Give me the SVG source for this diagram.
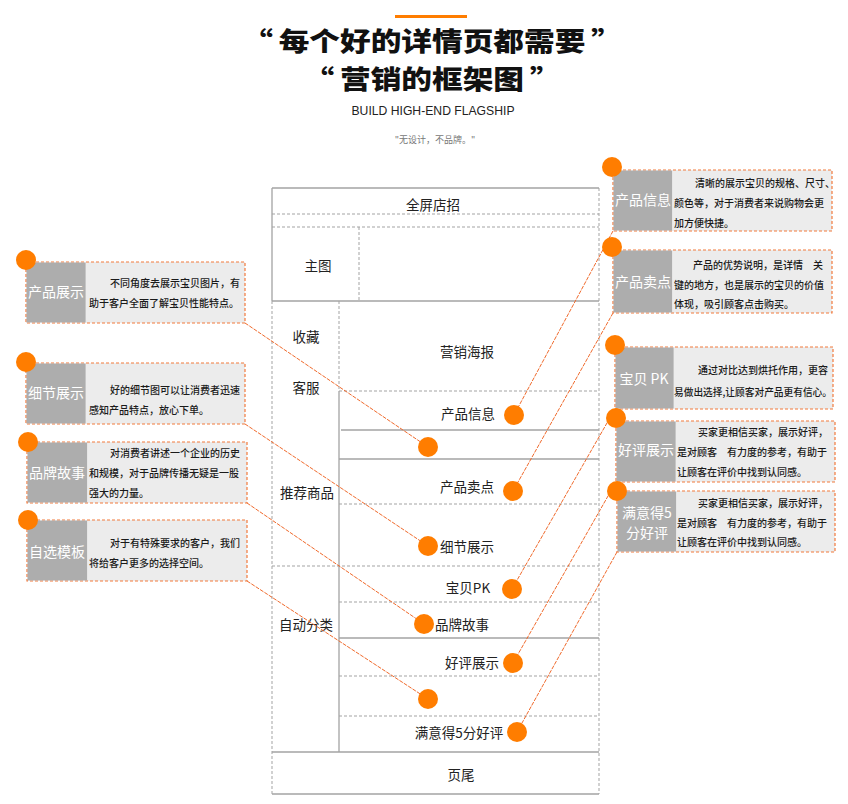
<svg xmlns="http://www.w3.org/2000/svg" width="848" height="804" viewBox="0 0 848 804">
<style>
.bg{fill:#ffffff}
.title{font-family:"Noto Sans CJK SC",sans-serif;font-weight:900;font-size:26px;fill:#111;text-anchor:middle}
.cell{font-family:"Noto Sans CJK SC","Liberation Sans",sans-serif;font-size:13.5px;fill:#222;text-anchor:middle}
.ls{stroke:#a3a3a3;stroke-width:1.3;fill:none}
.ld{stroke:#a3a3a3;stroke-width:1;stroke-dasharray:3 2;fill:none}
.box{fill:#ececec;stroke:#f27a3c;stroke-width:1.2;stroke-dasharray:3 2}
.lab{fill:#adadad}
.labt{font-family:"Noto Sans CJK SC",sans-serif;font-size:14px;fill:#ffffff;text-anchor:middle}
.body{font-family:"Noto Sans CJK SC",serif;font-size:10px;fill:#1a1a1a;font-weight:500}
.dot{fill:#ff7d00}
.con{stroke:#f06a2c;stroke-width:1;stroke-dasharray:4 1.2;fill:none}
</style>
<rect class="bg" x="0" y="0" width="848" height="804"/>

<g id="header">
<rect x="395" y="15" width="72" height="3" fill="#ff7d00"/>
<text class="title" x="0" y="51" transform="translate(432,0) scale(1.18,1)"><tspan>“</tspan><tspan dx="5">每个好的详情页都需要</tspan><tspan dx="5">”</tspan></text>
<text class="title" x="0" y="89" transform="translate(432,0) scale(1.18,1)"><tspan>“</tspan><tspan dx="5">营销的框架图</tspan><tspan dx="5">”</tspan></text>
<text x="433" y="115" font-family="Liberation Sans, Arial, sans-serif" font-size="13.5" fill="#222" text-anchor="middle" textLength="163" lengthAdjust="spacingAndGlyphs">BUILD HIGH-END FLAGSHIP</text>
<text x="435" y="143" font-family="Noto Sans CJK SC, sans-serif" font-size="9" fill="#777" text-anchor="middle">"无设计，不品牌。"</text>
</g>

<g id="frame">
<line class="ls" x1="272" y1="188" x2="599" y2="188"/>
<line class="ls" x1="272" y1="188" x2="272" y2="301"/>
<line class="ld" x1="272" y1="301" x2="272" y2="794"/>
<line class="ld" x1="599" y1="188" x2="599" y2="794"/>
<line class="ld" x1="272" y1="214" x2="599" y2="214"/>
<line class="ld" x1="272" y1="227" x2="599" y2="227"/>
<line class="ld" x1="359" y1="227" x2="359" y2="301"/>
<line class="ls" x1="272" y1="301" x2="599" y2="301"/>
<line class="ld" x1="339" y1="301" x2="339" y2="391"/>
<line class="ls" x1="339" y1="391" x2="339" y2="752"/>
<line class="ld" x1="339" y1="391" x2="599" y2="391"/>
<line class="ls" x1="341" y1="430" x2="599" y2="430"/>
<line class="ls" x1="339" y1="459" x2="599" y2="459"/>
<line class="ld" x1="339" y1="504" x2="599" y2="504"/>
<line class="ld" x1="272" y1="566" x2="599" y2="566"/>
<line class="ld" x1="339" y1="602" x2="599" y2="602"/>
<line class="ls" x1="339" y1="638" x2="599" y2="638"/>
<line class="ld" x1="339" y1="676" x2="599" y2="676"/>
<line class="ld" x1="339" y1="716" x2="599" y2="716"/>
<line class="ls" x1="272" y1="752" x2="599" y2="752"/>
<line class="ls" x1="272" y1="794" x2="599" y2="794"/>
</g>

<g id="cell-quanping"><text class="cell" x="433" y="210">全屏店招</text></g>
<g id="cell-zhutu"><text class="cell" x="318" y="271">主图</text></g>
<g id="cell-shoucang"><text class="cell" x="306" y="342">收藏</text></g>
<g id="cell-kefu"><text class="cell" x="306" y="393">客服</text></g>
<g id="cell-tuijian"><text class="cell" x="307" y="498">推荐商品</text></g>
<g id="cell-zidong"><text class="cell" x="306" y="630">自动分类</text></g>
<g id="cell-haibao"><text class="cell" x="467" y="357">营销海报</text></g>
<g id="cell-xinxi"><text class="cell" x="468" y="419">产品信息</text></g>
<g id="cell-maidian"><text class="cell" x="467" y="492">产品卖点</text></g>
<g id="cell-xijie"><text class="cell" x="467" y="552">细节展示</text></g>
<g id="cell-pk"><text class="cell" x="468" y="593">宝贝PK</text></g>
<g id="cell-pinpai"><text class="cell" x="462" y="630">品牌故事</text></g>
<g id="cell-haoping"><text class="cell" x="472" y="668">好评展示</text></g>
<g id="cell-manyi"><text class="cell" x="459" y="738">满意得5分好评</text></g>
<g id="cell-yewei"><text class="cell" x="461" y="780">页尾</text></g>

<g id="connectors">
<line class="con" x1="245" y1="323" x2="428" y2="447"/>
<line class="con" x1="245" y1="424" x2="428" y2="546"/>
<line class="con" x1="247" y1="503" x2="424" y2="624"/>
<line class="con" x1="247" y1="581" x2="428" y2="699"/>
<line class="con" x1="613" y1="231" x2="514" y2="415"/>
<line class="con" x1="613" y1="313" x2="513" y2="491"/>
<line class="con" x1="615" y1="409" x2="512" y2="589"/>
<line class="con" x1="616" y1="482" x2="513" y2="663"/>
<line class="con" x1="617" y1="552" x2="517" y2="732"/>
<circle class="dot" cx="428" cy="447" r="10"/>
<circle class="dot" cx="428" cy="546" r="10"/>
<circle class="dot" cx="424" cy="624" r="10"/>
<circle class="dot" cx="428" cy="699" r="10"/>
<circle class="dot" cx="514" cy="415" r="10"/>
<circle class="dot" cx="513" cy="491" r="10"/>
<circle class="dot" cx="512" cy="589" r="10"/>
<circle class="dot" cx="513" cy="663" r="10"/>
<circle class="dot" cx="517" cy="732" r="10"/>
</g>

<g id="box-chanpinzhanshi">
<rect class="box" x="26" y="262" width="219" height="61"/>
<rect class="lab" x="26.6" y="262.6" width="59" height="59.8"/>
<circle class="dot" cx="26" cy="260" r="10"/>
<text class="labt" x="56" y="297">产品展示</text>
<text class="body" x="110" y="287">不同角度去展示宝贝图片，有</text>
<text class="body" x="89" y="307">助于客户全面了解宝贝性能特点。</text>
</g>

<g id="box-xijiezhanshi">
<rect class="box" x="26" y="363" width="219" height="61"/>
<rect class="lab" x="26.6" y="363.6" width="59" height="59.8"/>
<circle class="dot" cx="26" cy="362" r="10"/>
<text class="labt" x="56" y="398">细节展示</text>
<text class="body" x="110" y="394">好的细节图可以让消费者迅速</text>
<text class="body" x="89" y="414">感知产品特点，放心下单。</text>
</g>

<g id="box-pinpaigushi">
<rect class="box" x="27" y="442" width="220" height="61"/>
<rect class="lab" x="27.6" y="442.6" width="59.5" height="59.8"/>
<circle class="dot" cx="28" cy="442" r="10"/>
<text class="labt" x="57" y="478">品牌故事</text>
<text class="body" x="110" y="457">对消费者讲述一个企业的历史</text>
<text class="body" x="89" y="477">和规模，对于品牌传播无疑是一股</text>
<text class="body" x="89" y="497">强大的力量。</text>
</g>

<g id="box-zixuanmoban">
<rect class="box" x="27" y="520" width="220" height="61"/>
<rect class="lab" x="27.6" y="520.6" width="59.5" height="59.8"/>
<circle class="dot" cx="28" cy="520" r="10"/>
<text class="labt" x="57" y="557">自选模板</text>
<text class="body" x="110" y="547">对于有特殊要求的客户，我们</text>
<text class="body" x="89" y="567">将给客户更多的选择空间。</text>
</g>

<g id="box-chanpinxinxi">
<rect class="box" x="613" y="170" width="219" height="61"/>
<rect class="lab" x="613.6" y="170.6" width="58.5" height="59.8"/>
<circle class="dot" cx="612" cy="167" r="10"/>
<text class="labt" x="643" y="205">产品信息</text>
<text class="body" x="695" y="187">清晰的展示宝贝的规格、尺寸、</text>
<text class="body" x="674" y="207">颜色等，对于消费者来说购物会更</text>
<text class="body" x="674" y="227">加方便快捷。</text>
</g>

<g id="box-chanpinmaidian">
<rect class="box" x="613" y="250" width="219" height="63"/>
<rect class="lab" x="613.6" y="250.6" width="58.5" height="61.8"/>
<circle class="dot" cx="612" cy="247" r="10"/>
<text class="labt" x="643" y="287">产品卖点</text>
<text class="body" x="693" y="269">产品的优势说明，是详情　关</text>
<text class="body" x="674" y="289">键的地方，也是展示的宝贝的价值</text>
<text class="body" x="674" y="308">体现，吸引顾客点击购买。</text>
</g>

<g id="box-baobeipk">
<rect class="box" x="615" y="347" width="218" height="62"/>
<rect class="lab" x="615.6" y="347.6" width="58" height="60.8"/>
<circle class="dot" cx="615" cy="345" r="10"/>
<text class="labt" x="644" y="384">宝贝 PK</text>
<text class="body" x="698" y="374">通过对比达到烘托作用，更容</text>
<text class="body" x="674" y="396" textLength="158" lengthAdjust="spacingAndGlyphs">易做出选择,让顾客对产品更有信心。</text>
</g>

<g id="box-haopingzhanshi">
<rect class="box" x="616" y="421" width="219" height="61"/>
<rect class="lab" x="616.6" y="421.6" width="59" height="59.8"/>
<circle class="dot" cx="616" cy="418" r="10"/>
<text class="labt" x="646" y="455">好评展示</text>
<text class="body" x="698" y="436">买家更相信买家，展示好评，</text>
<text class="body" x="677" y="456">是对顾客　有力度的参考，有助于</text>
<text class="body" x="677" y="476">让顾客在评价中找到认同感。</text>
</g>

<g id="box-manyi">
<rect class="box" x="617" y="491" width="218" height="61"/>
<rect class="lab" x="617.6" y="491.6" width="58.5" height="59.8"/>
<circle class="dot" cx="617" cy="491" r="10"/>
<text class="labt" x="647" y="518">满意得5</text>
<text class="labt" x="647" y="538">分好评</text>
<text class="body" x="698" y="507">买家更相信买家，展示好评，</text>
<text class="body" x="677" y="527">是对顾客　有力度的参考，有助于</text>
<text class="body" x="677" y="546">让顾客在评价中找到认同感。</text>
</g>
</svg>
